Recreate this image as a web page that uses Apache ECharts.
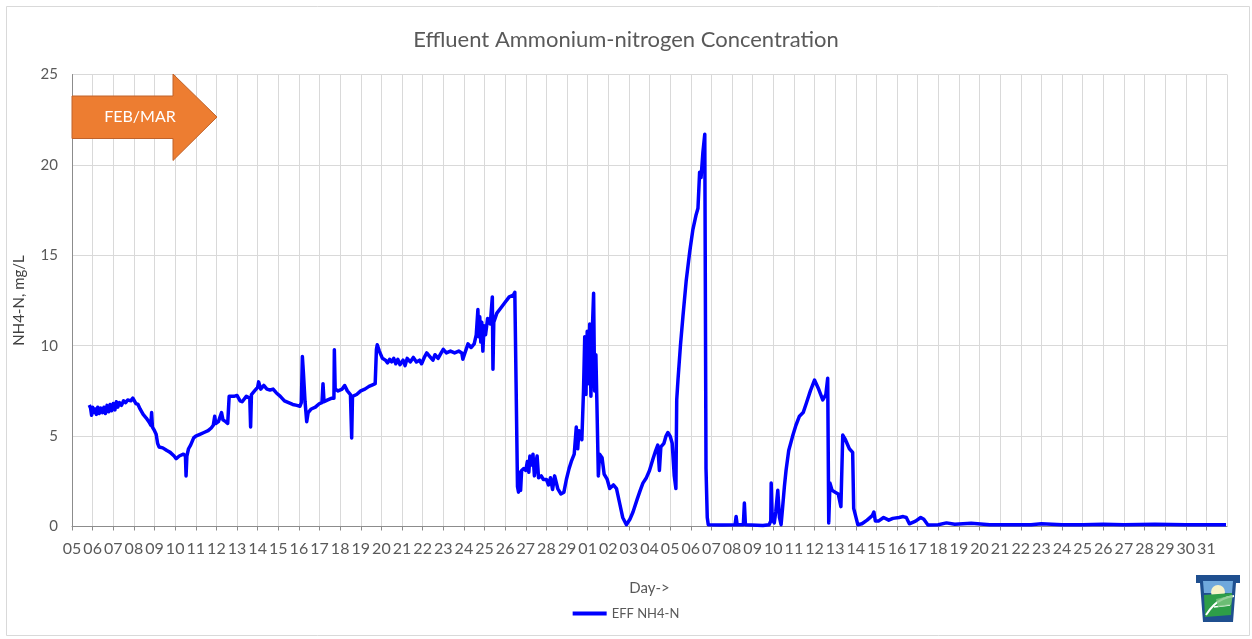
<!DOCTYPE html>
<html>
<head>
<meta charset="utf-8">
<title>Effluent Ammonium-nitrogen Concentration</title>
<script src="https://cdn.jsdelivr.net/npm/echarts@6/dist/echarts.min.js"></script>
<style>
  html, body { margin: 0; padding: 0; background: #fff; }
  #main { width: 1252px; height: 639px; }
</style>
</head>
<body>
<div id="main"></div>
<script>
// tick labels: one per day, Feb 05 .. Feb 29, Mar 01 .. Mar 31
var dayLabels = ['05','06','07','08','09','10','11','12','13','14','15','16','17','18','19',
  '20','21','22','23','24','25','26','27','28','29',
  '01','02','03','04','05','06','07','08','09','10','11','12','13','14','15','16','17',
  '18','19','20','21','22','23','24','25','26','27','28','29','30','31'];

// sample times, in days since Feb 05 00:00
var sampleDay = [
  0.84, 0.90, 0.95, 1.00, 1.05, 1.12, 1.18, 1.25, 1.32, 1.40, 1.48, 1.55, 1.62, 1.70, 1.78,
  1.85, 1.92, 2.00, 2.08, 2.15, 2.22, 2.30, 2.40, 2.50, 2.60, 2.70, 2.85, 2.95, 3.02, 3.10,
  3.20, 3.30, 3.45, 3.60, 3.75, 3.82, 3.86, 3.90, 4.00, 4.08, 4.15, 4.22, 4.40, 4.60, 4.76,
  4.95, 5.05, 5.20, 5.40, 5.50, 5.53, 5.57, 5.65, 5.75, 5.90, 6.00, 6.20, 6.40, 6.60, 6.75,
  6.85, 6.92, 6.97, 7.10, 7.25, 7.32, 7.45, 7.55, 7.62, 7.70, 7.85, 8.00, 8.15, 8.25, 8.45,
  8.62, 8.66, 8.70, 8.85, 9.00, 9.05, 9.15, 9.30, 9.45, 9.60, 9.75, 9.90, 10.10, 10.30, 10.50,
  10.70, 10.90, 11.05, 11.12, 11.17, 11.22, 11.30, 11.38, 11.45, 11.60, 11.80, 12.00, 12.12, 12.17, 12.22,
  12.40, 12.60, 12.70, 12.72, 12.76, 12.90, 13.10, 13.22, 13.35, 13.50, 13.56, 13.60, 13.80, 14.00, 14.20,
  14.40, 14.60, 14.70, 14.76, 14.80, 14.90, 15.05, 15.20, 15.30, 15.40, 15.50, 15.60, 15.70, 15.80, 15.90,
  16.05, 16.15, 16.25, 16.40, 16.55, 16.70, 16.85, 16.95, 17.10, 17.20, 17.35, 17.50, 17.60, 17.75, 17.90,
  18.00, 18.15, 18.35, 18.55, 18.75, 18.90, 18.95, 19.05, 19.20, 19.35, 19.50, 19.60, 19.68, 19.72, 19.77,
  19.82, 19.87, 19.92, 19.98, 20.05, 20.15, 20.28, 20.38, 20.41, 20.45, 20.60, 20.80, 21.00, 21.20, 21.40,
  21.47, 21.53, 21.60, 21.65, 21.70, 21.75, 21.80, 21.90, 22.00, 22.08, 22.15, 22.20, 22.28, 22.35, 22.42,
  22.48, 22.55, 22.62, 22.75, 22.85, 23.00, 23.10, 23.20, 23.30, 23.40, 23.55, 23.70, 23.85, 23.97, 24.10,
  24.21, 24.35, 24.45, 24.52, 24.58, 24.65, 24.72, 24.80, 24.86, 24.92, 24.98, 25.03, 25.10, 25.16, 25.22,
  25.29, 25.34, 25.40, 25.45, 25.52, 25.58, 25.70, 25.80, 25.95, 26.07, 26.25, 26.40, 26.55, 26.70, 26.88,
  27.05, 27.20, 27.40, 27.55, 27.68, 27.85, 28.00, 28.16, 28.30, 28.40, 28.48, 28.55, 28.70, 28.80, 28.89,
  29.00, 29.10, 29.20, 29.28, 29.32, 29.38, 29.50, 29.62, 29.78, 29.95, 30.10, 30.25, 30.35, 30.43, 30.50,
  30.59, 30.64, 30.68, 30.71, 30.74, 30.80, 30.85, 31.50, 32.15, 32.20, 32.25, 32.55, 32.60, 32.65, 33.50,
  33.80, 33.88, 33.90, 33.95, 34.05, 34.12, 34.22, 34.30, 34.38, 34.45, 34.54, 34.62, 34.75, 34.94, 35.10,
  35.27, 35.45, 35.60, 35.80, 36.00, 36.20, 36.40, 36.55, 36.64, 36.69, 36.75, 36.85, 37.00, 37.15, 37.28,
  37.37, 37.50, 37.69, 37.85, 37.90, 38.10, 38.30, 38.55, 38.80, 38.88, 38.95, 39.10, 39.35, 39.60, 39.80,
  40.10, 40.30, 40.45, 40.60, 40.90, 41.15, 41.30, 41.50, 42.00, 42.40, 42.80, 43.60, 44.50, 45.50, 46.50,
  47.00, 48.00, 49.00, 50.00, 51.00, 52.50, 54.00, 55.95
];

// effluent NH4-N, mg/L, matching sampleDay one for one
var nh4 = [
  6.72, 6.55, 6.15, 6.60, 6.30, 6.50, 6.20, 6.60, 6.25, 6.55, 6.30, 6.60, 6.25, 6.70, 6.35,
  6.75, 6.40, 6.80, 6.45, 6.90, 6.60, 6.85, 6.70, 6.95, 6.85, 7.00, 6.95, 7.10, 7.05, 6.80,
  6.75, 6.50, 6.20, 6.00, 5.75, 5.60, 6.30, 5.50, 5.30, 5.10, 4.60, 4.40, 4.35, 4.20, 4.10,
  3.90, 3.75, 3.90, 4.00, 3.90, 2.80, 3.90, 4.30, 4.50, 4.90, 5.00, 5.10, 5.20, 5.30, 5.45,
  5.60, 6.10, 5.70, 5.80, 6.30, 5.90, 5.80, 5.70, 7.20, 7.30, 7.20, 7.25, 6.95, 6.90, 7.20,
  7.10, 5.50, 7.30, 7.50, 7.70, 8.00, 7.60, 7.80, 7.60, 7.55, 7.60, 7.40, 7.20, 6.95, 6.85,
  6.75, 6.70, 6.65, 6.85, 9.40, 8.50, 6.90, 5.80, 6.30, 6.50, 6.60, 6.80, 6.85, 7.90, 6.90,
  7.00, 7.10, 7.10, 9.77, 7.60, 7.50, 7.60, 7.80, 7.50, 7.30, 4.90, 7.20, 7.30, 7.50, 7.60,
  7.75, 7.85, 7.90, 9.80, 10.05, 9.70, 9.30, 9.20, 9.05, 9.25, 9.10, 9.30, 9.00, 9.25, 8.95,
  9.20, 8.90, 9.30, 9.10, 9.35, 9.10, 9.20, 9.00, 9.40, 9.60, 9.40, 9.20, 9.50, 9.30, 9.60,
  9.80, 9.60, 9.70, 9.60, 9.70, 9.60, 9.25, 9.60, 10.10, 9.90, 10.10, 10.60, 12.00, 10.50, 11.60,
  10.20, 11.30, 9.70, 11.10, 10.60, 11.50, 11.20, 12.70, 8.70, 11.30, 11.80, 12.10, 12.40, 12.70, 12.80,
  12.95, 8.00, 2.20, 1.90, 3.00, 2.00, 3.10, 3.20, 3.10, 3.60, 3.00, 3.90, 3.40, 4.00, 2.80,
  3.40, 3.90, 2.70, 2.80, 2.60, 2.60, 2.30, 2.70, 2.05, 2.80, 2.10, 1.80, 1.90, 2.60, 3.20,
  3.60, 4.00, 5.50, 4.30, 5.30, 5.10, 4.80, 7.50, 10.50, 7.30, 10.80, 7.90, 11.20, 7.20, 10.60,
  12.90, 7.50, 9.50, 6.80, 2.80, 4.00, 3.80, 2.90, 2.60, 2.10, 2.30, 2.10, 1.30, 0.50, 0.10,
  0.40, 0.80, 1.50, 2.00, 2.40, 2.70, 3.10, 3.70, 4.20, 4.50, 3.10, 4.40, 4.60, 5.00, 5.20,
  5.00, 4.60, 2.80, 2.10, 7.00, 8.10, 10.00, 11.60, 13.60, 15.20, 16.40, 17.20, 17.60, 19.60, 19.30,
  20.70, 20.60, 21.70, 21.70, 3.20, 0.50, 0.10, 0.08, 0.10, 0.55, 0.10, 0.10, 1.30, 0.10, 0.05,
  0.10, 0.30, 2.40, 0.40, 0.20, 0.80, 2.00, 0.50, 0.10, 1.00, 2.20, 3.10, 4.20, 5.00, 5.60,
  6.10, 6.30, 6.80, 7.50, 8.10, 7.60, 7.00, 7.30, 8.20, 0.20, 2.40, 2.00, 1.90, 1.80, 1.10,
  5.06, 4.80, 4.30, 4.10, 1.00, 0.10, 0.15, 0.35, 0.60, 0.80, 0.30, 0.30, 0.50, 0.35, 0.45,
  0.50, 0.55, 0.50, 0.15, 0.30, 0.50, 0.40, 0.08, 0.10, 0.20, 0.12, 0.18, 0.10, 0.10, 0.10,
  0.15, 0.10, 0.10, 0.12, 0.10, 0.12, 0.10, 0.10
];

var seriesName = 'EFF NH4-N';

var points = [];
for (var i = 0; i < sampleDay.length; i++) {
  points.push([sampleDay[i], nh4[i]]);
}

var chart = echarts.init(document.getElementById('main'));
var font = 'Lato, "Open Sans", sans-serif';

chart.setOption({
  backgroundColor: '#fff',
  animation: false,
  textStyle: { fontFamily: font },
  title: {
    text: 'Effluent Ammonium-nitrogen Concentration',
    left: 'center',
    top: 24,
    textStyle: { fontFamily: font, fontSize: 22, fontWeight: 'normal', color: '#595959' }
  },
  legend: {
    bottom: 14,
    left: 'center',
    itemWidth: 34,
    itemHeight: 4,
    itemGap: 6,
    data: [{ name: seriesName, icon: 'rect' }],
    textStyle: { fontFamily: font, fontSize: 13, color: '#595959' }
  },
  grid: { left: 72, right: 25, top: 74.5, bottom: 112.5, containLabel: false },
  xAxis: {
    type: 'value',
    min: 0,
    max: 56,
    interval: 1,
    name: 'Day->',
    nameLocation: 'middle',
    nameGap: 54,
    nameTextStyle: { fontFamily: font, fontSize: 15, color: '#595959' },
    axisLine: { show: true, lineStyle: { color: '#8c8c8c', width: 1 } },
    axisTick: { show: true, inside: false, length: 4, lineStyle: { color: '#8c8c8c' } },
    splitLine: { show: true, lineStyle: { color: '#d9d9d9', width: 1 } },
    axisLabel: {
      margin: 14,
      showMaxLabel: false,
      fontFamily: font,
      fontSize: 16,
      color: '#595959',
      formatter: function (v) { return dayLabels[Math.round(v)] || ''; }
    }
  },
  yAxis: {
    type: 'value',
    min: 0,
    max: 25,
    interval: 5,
    name: 'NH4-N, mg/L',
    nameLocation: 'middle',
    nameGap: 45,
    nameTextStyle: { fontFamily: font, fontSize: 15, color: '#404040' },
    axisLine: { show: true, lineStyle: { color: '#8c8c8c', width: 1 } },
    axisTick: { show: false },
    splitLine: { show: true, lineStyle: { color: '#d9d9d9', width: 1 } },
    axisLabel: { margin: 14, fontFamily: font, fontSize: 15, color: '#595959' }
  },
  series: [{
    name: seriesName,
    type: 'line',
    data: points,
    showSymbol: false,
    symbol: 'none',
    color: '#0000ff',
    lineStyle: { width: 3.5, color: '#0000ff', join: 'round' }
  }],
  graphic: [
    // outer frame of the chart
    {
      type: 'rect',
      shape: { x: 6.5, y: 6.5, width: 1243, height: 629 },
      style: { fill: 'none', stroke: '#d9d9d9', lineWidth: 1 },
      silent: true
    },
    // FEB/MAR block arrow
    {
      type: 'polygon',
      shape: { points: [[72, 96], [173, 96], [173, 74], [217, 117], [173, 160.5], [173, 138.5], [72, 138.5]] },
      style: { fill: '#ed7d31', stroke: '#c0622a', lineWidth: 1 },
      z: 10
    },
    {
      type: 'text',
      x: 140,
      y: 117,
      style: {
        text: 'FEB/MAR',
        fill: '#fff',
        font: '16px ' + font,
        align: 'center',
        verticalAlign: 'middle'
      },
      z: 11
    },
    // keystone logo, bottom right
    {
      type: 'group',
      x: 1196,
      y: 575,
      children: [
        { type: 'polygon', shape: { points: [[0, 0], [44, 0], [44, 8], [40, 8], [37, 47], [7, 47], [4, 8], [0, 8]] },
          style: { fill: '#1f4f8f' } },
        { type: 'polygon', shape: { points: [[7, 6], [37, 6], [36, 18], [8, 18]] },
          style: { fill: '#6fa8dc' } },
        { type: 'circle', shape: { cx: 22, cy: 17, r: 7 }, style: { fill: '#f6f2c8' } },
        { type: 'polygon', shape: { points: [[8, 20], [36, 18], [35, 40], [9, 42]] },
          style: { fill: '#2e9e48' } },
        { type: 'polyline', shape: { points: [[10, 40], [18, 30], [27, 24], [38, 21]], smooth: 0.4 },
          style: { stroke: '#fff', lineWidth: 2, fill: 'none' } },
        { type: 'polyline', shape: { points: [[18, 32], [34, 30]], smooth: 0.3 },
          style: { stroke: '#fff', lineWidth: 1.5, fill: 'none' } },
        { type: 'polygon', shape: { points: [[20, 24], [37, 20], [35, 30], [22, 32]] },
          style: { fill: '#7cc47f', opacity: 0.8 } }
      ]
    }
  ]
});
</script>
</body>
</html>
